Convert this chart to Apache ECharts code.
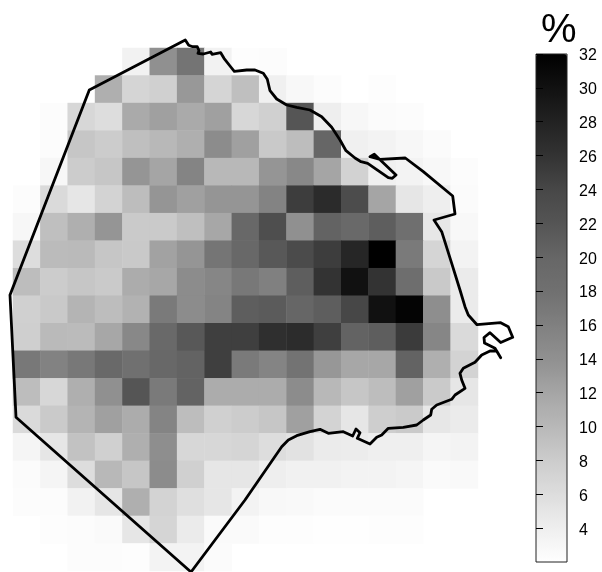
<!DOCTYPE html>
<html><head><meta charset="utf-8">
<script src="https://cdn.jsdelivr.net/npm/echarts@6/dist/echarts.min.js"></script>
<style>html,body{margin:0;padding:0;background:#fff}#c{width:602px;height:572px}</style>
</head><body><div id="c"></div>
<script>
const _ = null;
const gridColumns = [0,1,2,3,4,5,6,7,8,9,10,11,12,13,14,15,16];
const gridRows = [0,1,2,3,4,5,6,7,8,9,10,11,12,13,14,15,16,17,18];
const percentByRow = [
 [_,_,_,_,3.5,14,17.5,3.5,2.2,2.3,_,_,_,_,_,_,_],
 [_,_,_,11,7,7.5,13.2,7,9.3,3.8,2.8,2.4,_,2.2,_,_,_],
 [_,2.3,6.7,6,11.5,12.5,11.5,12.5,6.7,7.5,22,4,3,2.5,2.4,_,_],
 [_,2.4,8.6,8,9.3,10,11,14.5,12.5,8.3,9.5,20,3.8,3.4,3,2.5,_],
 [_,3,8,8.6,13.5,12,15.5,10,10,13.5,15,12,7.3,3.8,3.4,2.8,2.4],
 [2.3,6.4,5,7.2,9.5,13.5,12.5,13.5,13.5,15.6,25,27,23.3,12,4.9,4,2.5],
 [3,9.3,11,13.5,8.2,8.2,9.3,11.8,19.7,23,14,20.3,19.5,21,18.3,4.8,2.8],
 [6,9.7,9.8,8.6,8.3,12.3,13.5,17.4,19.7,21.6,23.4,25,27.5,32,16.7,7,3.4],
 [9.5,8,8.6,8.2,11.3,11.8,14.5,15.2,17,16,21,26,30,26,18.5,8.3,4.4],
 [7.5,8.3,10.4,9.5,10.6,16.7,14.5,15.5,21,21.3,20,21,24,30,31.5,14.3,4.4],
 [7.7,9.8,9.7,11.8,15,19.5,21.6,24.8,24.8,26.5,26.8,24.8,20.3,21,25.2,15.2,6.4],
 [17,15.8,17,19.5,18,19.7,20.4,24.8,16.7,15.5,17.6,13.3,11.8,11.8,20.4,11,7.2],
 [9.5,6.7,11,14,22,16.7,20.4,11.3,11.3,11.3,14.5,10,8.6,9.5,12.5,8.2,4.9],
 [6.4,8.2,10.4,12.5,11.3,15.5,9.5,7.5,8,8.6,12.5,7.2,5,7.8,8.2,4.8,4.4],
 [3.2,5,9,7.5,11,14.3,6.7,6.7,7,6,5.4,4.4,4.2,3.9,3.9,3.2,3.4],
 [2.5,3.2,6,10,8.6,14.5,7.5,4.9,4.9,4,3.6,3.6,3.4,3.4,3.2,2.6,2.7],
 [2.3,2.3,3.5,5,11,7.2,5.8,5,3.4,2.8,2.7,2.5,2.5,2.5,2.5,_,_],
 [_,2.2,2.3,2.6,5,7,4.4,2.6,2.6,2.2,2.2,2.1,2.1,2.2,2.2,_,_],
 [_,_,2.3,2.3,2.2,3.4,3.4,2.5,_,_,_,_,_,_,_,_,_]
];
const scaleColors = ['#ffffff','#eeeeee','#dddddd','#cccccc','#b8b8b8','#a5a5a5','#909090','#808080','#707070','#666666','#555555','#474747','#333333','#222222','#111111','#000000'];
const tickValues = [4,6,8,10,12,14,16,18,20,22,24,26,28,30,32];
const boundaryEast = [-3,76.3,172.3,175.7,179.7,184.3,186,185,190.3,197.7,199,207.7,211,217,221.3,233.7,242,250.3,254.3,257,263.7,273.7,283.7,297,308.7,318.7,327,333,342,348,354.7,375.3,379.3,383,361.3,357,367,392.3,410.3,439.7,442,421,428.7,438.7,447,452,455.3,464,487.7,495.3,499.7,487.7,477,471,471.5,482,487.7,483.7,477,468.7,462,450.3,447,448.7,452,442,438.7,423.7,418.7,417.7,410.3,403.7,390.3,375.3,368.7,363.7,357,344.3,347,343,339.7,330.3,315.3,307,297,283.7,275.3,268.7,232,178,3,-3];
const boundaryNorth = [276,481,531,525.7,524.3,524.3,520.3,517.7,517,519,516.7,518.3,512.7,505,499.7,501,501,497.7,491.7,480.3,472,466,463.7,461,454.3,443.7,431,420.3,413,409.3,407.7,393.3,392.7,396,416.7,414.3,411.7,413,399.3,375,357,351,339.3,307.7,281,264.3,256,246.3,248.3,244.3,233.7,228.5,238.3,233.5,228,222.7,213.3,220,220,216,208.7,202.7,197.7,191,182.7,176,171.7,166,161.7,156,151,146,143.7,142.7,136,133.7,127,132.7,138.3,142,135,139.3,137.7,141.7,139.3,135.3,131,124.3,71,-1,153.7,276];

const cells = [];
percentByRow.forEach((r, y) => r.forEach((v, x) => { if (v !== null) cells.push([x, y, v]); }));
const boundary = boundaryEast.map((e, i) => [e, boundaryNorth[i]]);

const chart = echarts.init(document.getElementById('c'), null, {renderer: 'canvas'});
chart.setOption({
  animation: false,
  backgroundColor: '#fff',
  grid: [
    {left: 13, top: 48, width: 465, height: 523},
    {left: 536, top: 54, width: 31, height: 508, show: true, z: 10, backgroundColor: 'transparent', borderColor: '#222', borderWidth: 1},
    {left: 3, top: 23, width: 520, height: 549}
  ],
  xAxis: [
    {type: 'category', gridIndex: 0, data: gridColumns, show: false},
    {type: 'value', gridIndex: 2, min: -10, max: 510, show: false},
    {type: 'value', gridIndex: 1, min: 0, max: 1, show: false}
  ],
  yAxis: [
    {type: 'category', gridIndex: 0, data: gridRows, inverse: true, show: false},
    {type: 'value', gridIndex: 2, min: -1, max: 548, show: false},
    {type: 'value', gridIndex: 1, min: 2, max: 32, interval: 2, position: 'right', z: 11,
     splitLine: {show: false},
     axisLine: {show: false},
     axisTick: {show: true, length: 7, customValues: tickValues, lineStyle: {color: '#000', width: 1}},
     axisLabel: {show: true, customValues: tickValues, margin: 12, color: '#000', fontFamily: 'Liberation Sans', fontSize: 16,
       formatter: '{a|{value}}',
       rich: {a: {color: '#000', fontFamily: 'Liberation Sans', fontSize: 16, padding: [4, 0, 0, 0]}}}}
  ],
  visualMap: {
    type: 'continuous', seriesIndex: 0, min: 2, max: 32, calculable: false, text: null, showLabel: false,
    left: 536, top: 54, itemWidth: 31, itemHeight: 508, padding: 0, hoverLink: false,
    inRange: {color: scaleColors}
  },
  graphic: [{type: 'text', left: 541, top: 11, style: {text: '%', font: '40px "Liberation Sans"', fill: '#000'}}],
  series: [
    {type: 'heatmap', xAxisIndex: 0, yAxisIndex: 0, data: cells, progressive: 0, itemStyle: {borderWidth: 0}, emphasis: {disabled: true}},
    {type: 'line', xAxisIndex: 1, yAxisIndex: 1, data: boundary, showSymbol: false, symbol: 'none', clip: false, z: 5, silent: true,
     lineStyle: {color: '#000', width: 2.8, join: 'round', cap: 'round'}}
  ]
});
</script></body></html>
